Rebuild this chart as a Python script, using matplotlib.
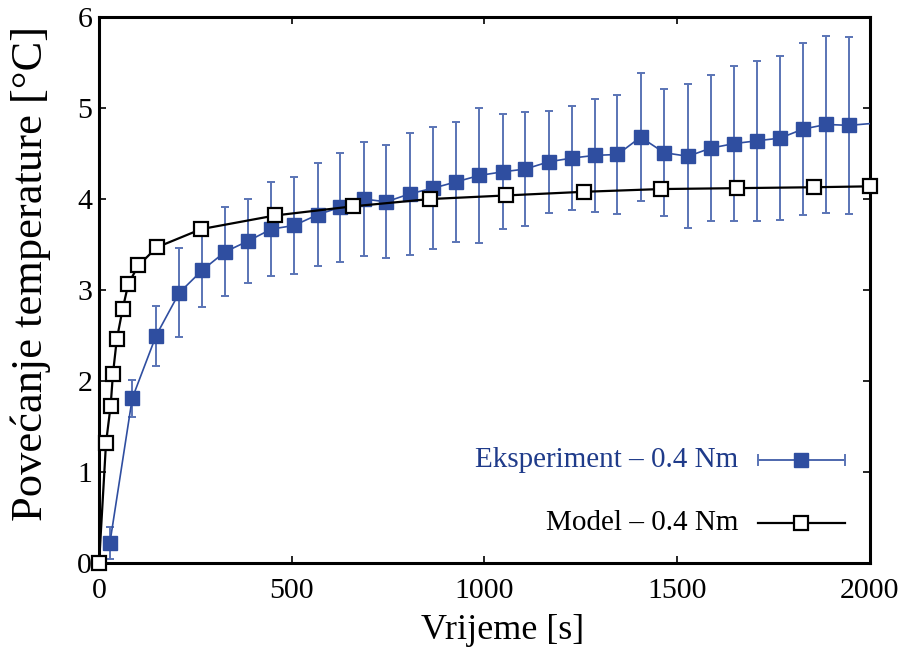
import numpy as np
import matplotlib
matplotlib.use("Agg")
import matplotlib.pyplot as plt

plt.rcParams['font.family'] = ['Liberation Serif', 'DejaVu Serif']
plt.rcParams['mathtext.fontset'] = 'stix'

exp_t = [28, 86, 148, 208, 268, 327, 387, 447, 506, 568, 626, 687, 745, 808,
         867, 927, 987, 1048, 1106, 1167, 1226, 1286, 1345, 1405, 1466, 1528,
         1587, 1648, 1706, 1767, 1827, 1887, 1946, 2030]
exp_T = [0.22, 1.81, 2.50, 2.97, 3.22, 3.42, 3.54, 3.67, 3.71, 3.83, 3.91, 4.00,
         3.97, 4.06, 4.12, 4.19, 4.26, 4.30, 4.33, 4.41, 4.45, 4.48, 4.49, 4.68,
         4.51, 4.47, 4.56, 4.61, 4.64, 4.67, 4.77, 4.82, 4.81, 4.84]
exp_err = [0.18, 0.20, 0.33, 0.49, 0.41, 0.49, 0.46, 0.52, 0.53, 0.57, 0.60, 0.63,
           0.62, 0.67, 0.67, 0.66, 0.74, 0.63, 0.63, 0.56, 0.57, 0.62, 0.65, 0.70,
           0.70, 0.79, 0.80, 0.85, 0.88, 0.90, 0.95, 0.97, 0.97, 0.98]

# model
mod_t = [0, 18, 30, 36, 46, 61, 76, 102, 150, 265, 457, 658, 858, 1057,
         1258, 1457, 1656, 1855, 2000]
mod_T = [0.0, 1.32, 1.73, 2.08, 2.46, 2.79, 3.07, 3.27, 3.47, 3.67, 3.82, 3.92,
         4.00, 4.04, 4.08, 4.11, 4.12, 4.13, 4.14]

exp_label = 'Eksperiment – 0.4 Nm'
mod_label = 'Model – 0.4 Nm'

blue = '#2f4ea0'
blue_err = '#5a74b5'

fig = plt.figure(figsize=(9.09, 6.57), dpi=100)
ax = fig.add_axes([0.109, 0.143, 0.848, 0.831])

ax.errorbar(exp_t, exp_T, yerr=exp_err, fmt='none', ecolor=blue_err,
            elinewidth=1.4, capsize=3.2, capthick=1.4, zorder=2)
ax.plot(exp_t, exp_T, '-', color=blue, lw=1.2, marker='s', ms=9.5,
        mfc=blue, mec=blue, zorder=3)
ax.plot(mod_t, mod_T, '-', color='black', lw=1.6, marker='s', ms=9.5,
        mfc='white', mec='black', mew=1.6, zorder=4, clip_on=False)

ax.set_xlim(0, 2000)
ax.set_ylim(0, 6)
ax.set_xticks([0, 500, 1000, 1500, 2000])
ax.set_yticks([0, 1, 2, 3, 4, 5, 6])
ax.tick_params(direction='in', length=5, width=1.2, top=True, right=True,
               labelsize=21.5)
ax.tick_params(axis='x', pad=11)
ax.tick_params(axis='y', pad=5)
for s in ax.spines.values():
    s.set_linewidth(2.2)

ax.set_xlabel('Vrijeme [s]', fontsize=26)
ax.xaxis.set_label_coords(0.523, -0.093)
ax.set_ylabel('Povećanje temperature [°C]', fontsize=32)
ax.yaxis.set_label_coords(-0.063, 0.531)

# legend, gnuplot style: text first, sample on the right
tr = ax.transAxes
ax.text(0.829, 0.189, exp_label, transform=tr, ha='right', va='center',
        fontsize=21, color='#1f3b8a')
ax.plot([0.855, 0.968], [0.189, 0.189], color=blue, lw=1.2, transform=tr)
for xc in (0.855, 0.968):
    ax.plot([xc, xc], [0.180, 0.198], color=blue_err, lw=1.4, transform=tr)
ax.plot([0.911], [0.189], 's', color=blue, ms=9.5, transform=tr)

ax.text(0.829, 0.074, mod_label, transform=tr, ha='right', va='center',
        fontsize=21, color='black')
ax.plot([0.855, 0.968], [0.074, 0.074], color='black', lw=1.6, transform=tr)
ax.plot([0.911], [0.074], 's', mfc='white', mec='black', mew=1.6, ms=9.5,
        transform=tr)

fig.savefig('out.png', dpi=100)
